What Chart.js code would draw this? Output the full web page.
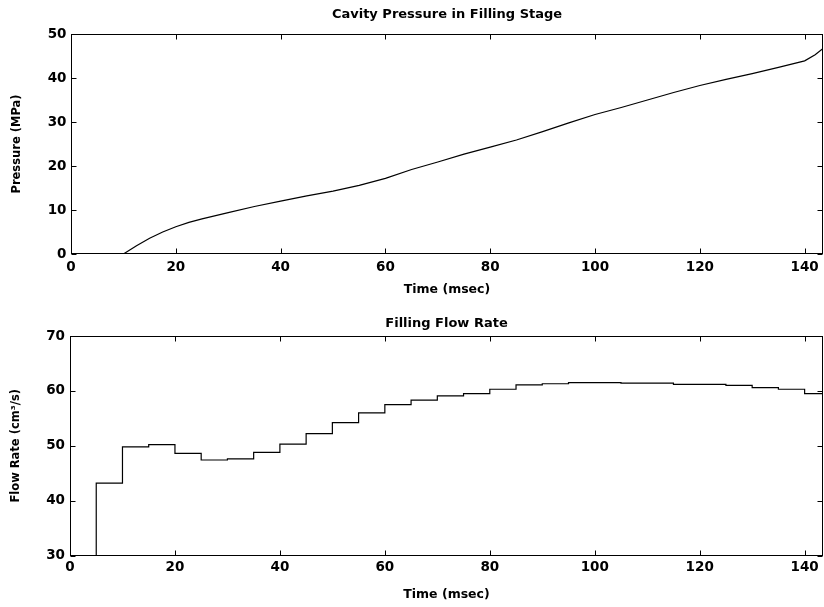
<!DOCTYPE html>
<html>
<head>
<meta charset="utf-8">
<title>Cavity Pressure / Filling Flow Rate</title>
<script src="https://cdn.jsdelivr.net/npm/chart.js@4.4.0/dist/chart.umd.min.js"></script>
<style>
    html, body { margin: 0; padding: 0; background: #fff; }
    canvas { position: absolute; left: 0; }
    #pressureChart { top: 0; }
    #flowChart { top: 300px; }
</style>
</head>
<body>
<canvas id="pressureChart" width="824" height="300"></canvas>
<canvas id="flowChart" width="824" height="307"></canvas>
<script>
// ============================================================================
// CHART DATA
// ============================================================================

// Cavity pressure vs time
var pressureTimes  = [0, 10, 12.5, 15, 17.5, 20, 22.5, 25, 30, 35, 40, 45, 50, 55, 60, 65,
                      70, 75, 80, 85, 90, 95, 100, 105, 110, 115, 120, 125, 130, 135, 140, 142, 144];
var pressureValues = [0, 0, 1.9, 3.6, 5.0, 6.2, 7.2, 8.0, 9.4, 10.8, 12.0, 13.2, 14.3, 15.6, 17.2, 19.2,
                      20.9, 22.7, 24.3, 25.9, 27.8, 29.8, 31.7, 33.3, 35.0, 36.7, 38.3, 39.7, 41.0, 42.4, 43.9, 45.3, 47.2];

// Filling flow rate, one value per 5 msec step (value holds until next time)
var flowTimes = [0, 5, 10, 15, 20, 25, 30, 35, 40, 45, 50, 55, 60, 65, 70, 75,
                 80, 85, 90, 95, 100, 105, 110, 115, 120, 125, 130, 135, 140, 145];
var flowRates = [0, 43.2, 49.8, 50.2, 48.6, 47.4, 47.6, 48.8, 50.3, 52.2, 54.2, 56.0, 57.5, 58.3, 59.1, 59.5,
                 60.3, 61.1, 61.3, 61.5, 61.5, 61.4, 61.4, 61.2, 61.2, 61.0, 60.6, 60.3, 59.5, 59.5];

// Axis ranges and tick steps
var timeRange     = [0, 143.5];
var timeStep      = 20;
var pressureRange = [0, 50];
var flowRange     = [30, 70];
var valueStep     = 10;

(function() {
    'use strict';

    var FAMILY = "'DejaVu Sans', sans-serif";
    var TICK_FONT   = { family: FAMILY, weight: 'bold', size: 13.5 };
    var TITLE_FONT  = { family: FAMILY, weight: 'bold', size: 13 };
    var XLABEL_FONT = { family: FAMILY, weight: 'bold', size: 12.5 };
    var YLABEL_FONT = { family: FAMILY, weight: 'bold', size: 11.5 };

    // Box round the plot plus inward tick marks on all four sides
    var framePlugin = {
        id: 'frameTicks',
        afterDatasetsDraw: function(chart) {
            var ctx = chart.ctx;
            var a = chart.chartArea;
            var l = Math.round(a.left) + 0.5;
            var r = Math.round(a.right) - 0.5;
            var t = Math.round(a.top) + 0.5;
            var b = Math.round(a.bottom) - 0.5;
            var len = 5;

            ctx.save();
            ctx.strokeStyle = '#000';
            ctx.lineWidth = 1;
            ctx.strokeRect(l, t, r - l, b - t);

            ctx.beginPath();
            chart.scales.x.ticks.forEach(function(tick) {
                var px = Math.round(chart.scales.x.getPixelForValue(tick.value)) + 0.5;
                ctx.moveTo(px, b); ctx.lineTo(px, b - len);
                ctx.moveTo(px, t); ctx.lineTo(px, t + len);
            });
            chart.scales.y.ticks.forEach(function(tick) {
                var py = Math.round(chart.scales.y.getPixelForValue(tick.value)) + 0.5;
                ctx.moveTo(l, py); ctx.lineTo(l + len, py);
                ctx.moveTo(r, py); ctx.lineTo(r - len, py);
            });
            ctx.stroke();
            ctx.restore();
        }
    };

    function toPoints(xs, ys) {
        return xs.map(function(x, i) { return { x: x, y: ys[i] }; });
    }

    // Build one MATLAB-style panel
    function makePanel(canvasId, cfg) {
        var ctx = document.getElementById(canvasId);
        return new Chart(ctx, {
            type: 'line',
            data: {
                datasets: [{
                    data: toPoints(cfg.xs, cfg.ys),
                    borderColor: '#000',
                    borderWidth: 1.2,
                    pointRadius: 0,
                    tension: 0,
                    stepped: cfg.stepped || false,
                    fill: false
                }]
            },
            options: {
                responsive: false,
                animation: false,
                layout: { padding: { left: 0, right: 1, top: 0, bottom: 0 } },
                plugins: {
                    legend: { display: false },
                    tooltip: { enabled: false },
                    title: {
                        display: true,
                        text: cfg.title,
                        fullSize: false,
                        color: '#000',
                        font: TITLE_FONT,
                        padding: cfg.titlePad
                    }
                },
                scales: {
                    x: {
                        type: 'linear',
                        min: timeRange[0],
                        max: timeRange[1],
                        grid: { display: false, drawTicks: false },
                        border: { display: false },
                        ticks: {
                            stepSize: timeStep,
                            includeBounds: false,
                            autoSkip: false,
                            maxRotation: 0,
                            padding: cfg.xTickPad,
                            color: '#000',
                            font: TICK_FONT
                        },
                        title: {
                            display: true,
                            text: 'Time (msec)',
                            color: '#000',
                            font: XLABEL_FONT,
                            padding: { top: 0, bottom: cfg.xTitlePad }
                        },
                        afterFit: function(scale) { scale.height = cfg.xHeight; }
                    },
                    y: {
                        min: cfg.yRange[0],
                        max: cfg.yRange[1],
                        grid: { display: false, drawTicks: false },
                        border: { display: false },
                        ticks: {
                            stepSize: valueStep,
                            padding: cfg.yTickPad,
                            color: '#000',
                            font: TICK_FONT
                        },
                        title: {
                            display: true,
                            text: cfg.yTitle,
                            color: '#000',
                            font: YLABEL_FONT,
                            padding: { top: cfg.yTitlePad, bottom: 0 }
                        },
                        afterFit: function(scale) { scale.width = cfg.yWidth; }
                    }
                }
            },
            plugins: [framePlugin]
        });
    }

    makePanel('pressureChart', {
        xs: pressureTimes,
        ys: pressureValues,
        title: 'Cavity Pressure in Filling Stage',
        titlePad: { top: 6.7, bottom: 11.7 },
        yTitle: 'Pressure (MPa)',
        yRange: pressureRange,
        yWidth: 71,
        yTickPad: 4.5,
        yTitlePad: 10,
        xHeight: 46,
        xTickPad: 4.9,
        xTitlePad: 2.5
    });

    makePanel('flowChart', {
        xs: flowTimes,
        ys: flowRates,
        stepped: 'before',
        title: 'Filling Flow Rate',
        titlePad: { top: 15.5, bottom: 4.9 },
        yTitle: 'Flow Rate (cm\u00B3/s)',
        yRange: flowRange,
        yWidth: 70,
        yTickPad: 5,
        yTitlePad: 9,
        xHeight: 51.5,
        xTickPad: 4.1,
        xTitlePad: 4.5
    });
})();
</script>
</body>
</html>
